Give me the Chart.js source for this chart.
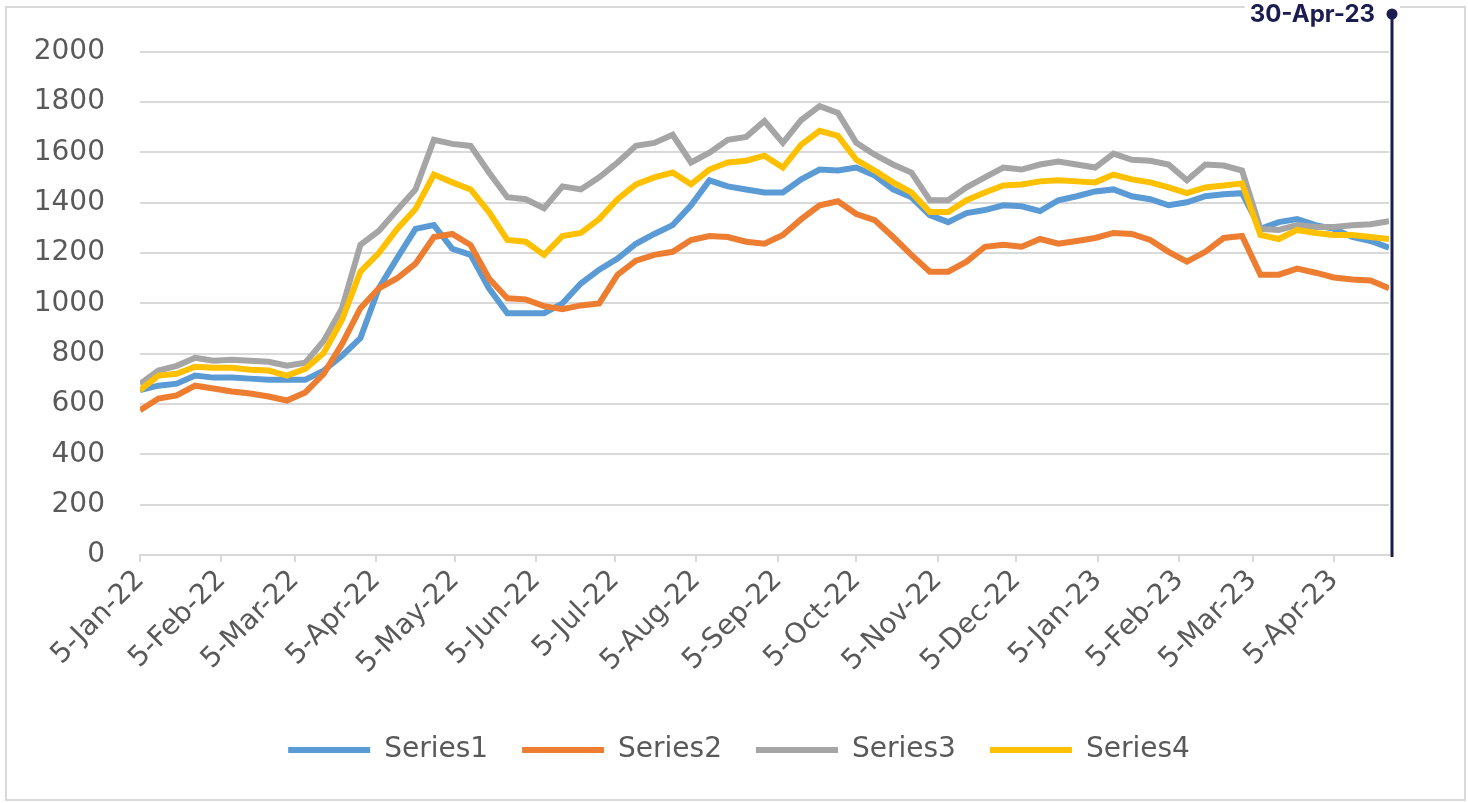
<!DOCTYPE html>
<html>
<head>
<meta charset="utf-8">
<script src="https://cdn.jsdelivr.net/npm/chart.js@4.4.0/dist/chart.umd.min.js"></script>
<style>
  html, body { margin: 0; padding: 0; background: #fff; }
</style>
</head>
<body>
<canvas id="chart" width="1468" height="803"></canvas>
<script>
// weekly observation dates
var weekDates = [
  '5-Jan-22','12-Jan-22','19-Jan-22','26-Jan-22','2-Feb-22','9-Feb-22','16-Feb-22','23-Feb-22',
  '2-Mar-22','9-Mar-22','16-Mar-22','23-Mar-22','30-Mar-22','6-Apr-22','13-Apr-22','20-Apr-22',
  '27-Apr-22','4-May-22','11-May-22','18-May-22','25-May-22','1-Jun-22','8-Jun-22','15-Jun-22',
  '22-Jun-22','29-Jun-22','6-Jul-22','13-Jul-22','20-Jul-22','27-Jul-22','3-Aug-22','10-Aug-22',
  '17-Aug-22','24-Aug-22','31-Aug-22','7-Sep-22','14-Sep-22','21-Sep-22','28-Sep-22','5-Oct-22',
  '12-Oct-22','19-Oct-22','26-Oct-22','2-Nov-22','9-Nov-22','16-Nov-22','23-Nov-22','30-Nov-22',
  '7-Dec-22','14-Dec-22','21-Dec-22','28-Dec-22','4-Jan-23','11-Jan-23','18-Jan-23','25-Jan-23',
  '1-Feb-23','8-Feb-23','15-Feb-23','22-Feb-23','1-Mar-23','8-Mar-23','15-Mar-23','22-Mar-23',
  '29-Mar-23','5-Apr-23','12-Apr-23','19-Apr-23','26-Apr-23'
];

var series1 = [655,673,681,713,705,705,701,697,697,697,733,792,862,1060,1180,1296,1311,1217,1193,1060,
  961,961,961,1000,1079,1134,1178,1237,1276,1311,1390,1489,1465,1453,1441,1441,1493,1532,1528,1540,
  1508,1453,1422,1351,1323,1359,1371,1390,1386,1367,1410,1426,1445,1453,1426,1414,1390,1402,1426,1434,
  1438,1296,1323,1335,1311,1296,1264,1248,1221];

var series2 = [575,622,634,673,662,650,642,630,614,646,720,839,981,1060,1100,1158,1264,1276,1232,1099,
  1020,1016,989,977,992,1000,1114,1170,1193,1205,1252,1268,1264,1245,1237,1272,1335,1390,1406,1355,
  1331,1264,1193,1126,1126,1166,1225,1233,1225,1256,1237,1248,1260,1280,1276,1252,1205,1166,1205,1260,
  1268,1114,1114,1138,1122,1103,1095,1091,1060];

var series3 = [680,733,752,784,772,776,772,768,752,764,851,981,1233,1288,1371,1453,1650,1634,1626,1520,
  1422,1414,1378,1465,1453,1501,1560,1626,1638,1670,1560,1599,1650,1662,1725,1638,1729,1784,1757,1638,
  1591,1552,1520,1410,1410,1461,1501,1540,1532,1552,1564,1552,1540,1595,1571,1567,1552,1489,1552,1548,
  1528,1296,1292,1311,1304,1304,1311,1315,1327];

var series4 = [655,713,720,748,744,744,736,733,713,740,803,935,1126,1200,1296,1375,1512,1481,1453,1363,
  1252,1245,1193,1268,1280,1335,1414,1473,1501,1520,1473,1532,1560,1567,1587,1540,1631,1686,1666,1571,
  1528,1481,1441,1363,1363,1410,1441,1469,1473,1485,1489,1485,1481,1512,1493,1481,1461,1438,1461,1469,
  1477,1272,1256,1292,1280,1272,1272,1264,1256];

var seriesNames = ['Series1', 'Series2', 'Series3', 'Series4'];
var seriesColors = ['#5B9BD5', '#ED7D31', '#A5A5A5', '#FFC000'];

var tickLabels = ['5-Jan-22','5-Feb-22','5-Mar-22','5-Apr-22','5-May-22','5-Jun-22','5-Jul-22','5-Aug-22',
  '5-Sep-22','5-Oct-22','5-Nov-22','5-Dec-22','5-Jan-23','5-Feb-23','5-Mar-23','5-Apr-23'];

var markerLabel = '30-Apr-23';

var months = ['Jan','Feb','Mar','Apr','May','Jun','Jul','Aug','Sep','Oct','Nov','Dec'];
var base_day = Date.UTC(2022, 0, 5);

// day number counted from 5-Jan-22
var to_day = function(s) {
  var parts = s.split('-');
  var t = Date.UTC(2000 + parseInt(parts[2]), months.indexOf(parts[1]), parseInt(parts[0]));
  return Math.round((t - base_day) / 86400000);
};

var weekDays = weekDates.map(to_day);
var tickDays = tickLabels.map(to_day);

var label_color = '#595959';
var grid_color = '#D9D9D9';
var navy = '#1B1D50';
Chart.defaults.font.family = "'DejaVu Sans', sans-serif";

var make_points = function(values) {
  return values.map(function(v, i) { return {x: weekDays[i], y: v}; });
};

var all_series = [series1, series2, series3, series4];
var datasets = all_series.map(function(values, i) {
  return {
    label: seriesNames[i],
    data: make_points(values),
    borderColor: seriesColors[i],
    backgroundColor: seriesColors[i],
    borderWidth: 6,
    pointRadius: 0,
    tension: 0,
    fill: false,
    order: all_series.length - i,
  };
});

var frame_plugin = {
  id: 'frame',
  beforeDraw: function(chart) {
    var ctx = chart.ctx;
    ctx.save();
    ctx.strokeStyle = grid_color;
    ctx.lineWidth = 2;
    ctx.strokeRect(6, 7, chart.width - 9, chart.height - 10);
    ctx.restore();
  }
};

var marker_plugin = {
  id: 'marker',
  afterDraw: function(chart) {
    var ctx = chart.ctx;
    var xs = chart.scales.x;
    var ys = chart.scales.y;
    var px = xs.getPixelForValue(xs.max) + 3;
    var top = 14;
    var bottom = ys.getPixelForValue(0) + 2;

    ctx.save();
    ctx.font = "bold 24px Inter, 'Open Sans', sans-serif";
    var w = ctx.measureText(markerLabel).width;
    ctx.fillStyle = '#fff';
    ctx.fillRect(px - 22 - w, 0, w + 30, 28);

    ctx.strokeStyle = navy;
    ctx.lineWidth = 3;
    ctx.beginPath();
    ctx.moveTo(px, top);
    ctx.lineTo(px, bottom);
    ctx.stroke();

    ctx.fillStyle = navy;
    ctx.beginPath();
    ctx.arc(px, top, 5.5, 0, Math.PI * 2);
    ctx.fill();

    ctx.textAlign = 'right';
    ctx.textBaseline = 'middle';
    ctx.fillText(markerLabel, px - 17, top + 1);
    ctx.restore();
  }
};

var chart = new Chart('chart', {
  type: 'line',
  data: { datasets: datasets },
  options: {
    responsive: false,
    animation: false,
    layout: { padding: { top: 42, right: 0, bottom: 29, left: 10 } },
    plugins: {
      tooltip: { enabled: false },
      legend: {
        position: 'bottom',
        labels: {
          boxWidth: 82,
          boxHeight: 6,
          padding: 34,
          color: label_color,
          font: { size: 28 },
          sort: function(a, b) { return a.datasetIndex - b.datasetIndex; },
          generateLabels: function(chart) {
            return Chart.defaults.plugins.legend.labels.generateLabels(chart).map(function(l) {
              l.lineWidth = 0;
              return l;
            });
          }
        }
      }
    },
    scales: {
      x: {
        type: 'linear',
        min: weekDays[0],
        max: weekDays[weekDays.length - 1],
        afterBuildTicks: function(scale) {
          scale.ticks = tickDays.map(function(v) { return {value: v}; });
        },
        afterFit: function(scale) { scale.height = 147; },
        ticks: {
          autoSkip: false,
          minRotation: 45,
          maxRotation: 45,
          padding: 2,
          color: label_color,
          font: { size: 28 },
          callback: function(v) {
            var k = tickDays.indexOf(v);
            return k >= 0 ? tickLabels[k] : '';
          }
        },
        grid: { drawOnChartArea: false, drawTicks: true, tickLength: 7, color: grid_color, lineWidth: 2 },
        border: { color: grid_color, width: 2 }
      },
      y: {
        min: 0,
        max: 2000,
        afterFit: function(scale) { scale.width = 130; },
        ticks: {
          stepSize: 200,
          padding: 35,
          color: label_color,
          font: { size: 28 },
          callback: function(v) { return String(v); }
        },
        grid: { color: grid_color, lineWidth: 2, drawTicks: false },
        border: { display: false }
      },
      // empty right-hand gutter so the plot ends where the marker sits
      gutter: {
        type: 'linear',
        position: 'right',
        min: 0,
        max: 1,
        afterFit: function(scale) { scale.width = 79; },
        ticks: { display: false },
        grid: { display: false },
        border: { display: false }
      }
    }
  },
  plugins: [frame_plugin, marker_plugin]
});
</script>
</body>
</html>
